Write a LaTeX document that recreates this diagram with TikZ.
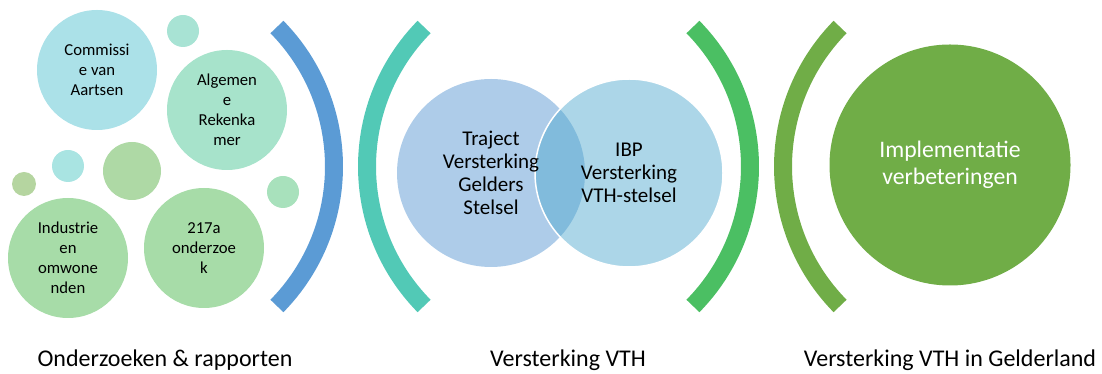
\documentclass[tikz,border=0pt]{standalone}
\usepackage{fontspec}
\setmainfont{Carlito}
\usepackage{tikz}
\usetikzlibrary{calc}

\definecolor{brkblue}{HTML}{5B9BD5}
\definecolor{brkteal}{HTML}{52C9B6}
\definecolor{brkgreen}{HTML}{4BBF63}
\definecolor{brkolive}{HTML}{70AD47}
\definecolor{cyanA}{HTML}{ABE1E8}
\definecolor{mintA}{HTML}{A8E3D4}
\definecolor{mintB}{HTML}{A7E3CB}
\definecolor{cyanB}{HTML}{A9E4E2}
\definecolor{oliveA}{HTML}{B5D5A0}
\definecolor{greenA}{HTML}{AED9A5}
\definecolor{greenB}{HTML}{A8E1BC}
\definecolor{greenC}{HTML}{A7DCA8}
\definecolor{vennL}{HTML}{AECCE9}
\definecolor{vennR}{HTML}{4FA8CE}

\begin{document}
\begin{tikzpicture}[
  x=1pt, y=1pt,
  bubble/.style={circle, inner sep=0pt, minimum size=120pt, align=center,
    font=\fontsize{16.7}{20}\selectfont},
  dot/.style={circle, inner sep=0pt},
  brk/.style={line width=18pt},
  lab/.style={anchor=base, font=\fontsize{24}{28}\selectfont}
]
\useasboundingbox (0,0) rectangle (1102,374);

% Onderzoeken
\node[bubble, fill=cyanA] (aartsen) at (97,304) {Commissi\\e van\\Aartsen};
\node[dot, fill=mintA, minimum size=32pt] (d1) at (183,343) {};
\node[bubble, fill=mintB] (rekenk) at (227,264) {Algemen\\e\\Rekenka\\mer};
\node[dot, fill=cyanB, minimum size=32pt] (d2) at (68,208) {};
\node[dot, fill=oliveA, minimum size=24pt] (d3) at (24,190) {};
\node[dot, fill=greenA, minimum size=58pt] (d4) at (132,203) {};
\node[dot, fill=greenB, minimum size=32pt] (d5) at (283,182) {};
\node[bubble, fill=greenC] (industrie) at (68,116) {Industrie\\en\\omwone\\nden};
\node[bubble, fill=greenC] (onderz) at (204,126) {217a\\onderzoe\\k};

% haken
\coordinate (cb) at (135,207.5);
\coordinate (ct) at (566,207.5);
\coordinate (cg) at (551,207.5);
\coordinate (co) at (982,207.5);
\draw[brk, brkblue] ($(cb)+(-44.5:199)$) arc (-44.5:44.5:199);
\draw[brk, brkteal] ($(ct)+(135.5:199)$) arc (135.5:224.5:199);
\draw[brk, brkgreen] ($(cg)+(-44.5:199)$) arc (-44.5:44.5:199);
\draw[brk, brkolive] ($(co)+(135.5:199)$) arc (135.5:224.5:199);

% Venn
\node[circle, fill=vennL, minimum size=188pt, inner sep=0pt] (gelders) at (491,201) {};
\node[circle, fill=vennR, fill opacity=0.47, draw=white, line width=1.5pt,
  minimum size=188pt, inner sep=0pt] (ibp) at (629,201) {};
\node[align=center, font=\fontsize{21}{23}\selectfont] at (gelders.center)
  {Traject\\Versterking\\Gelders\\Stelsel};
\node[align=center, font=\fontsize{21}{23}\selectfont] at (ibp.center)
  {IBP\\Versterking\\VTH-stelsel};

% Implementatie
\node[circle, fill=brkolive, minimum size=241pt, inner sep=0pt, align=center,
  text=white, font=\fontsize{23.7}{27}\selectfont] (impl) at (950,209)
  {Implementatie\\verbeteringen};

% onderschriften
\node[lab] (l1) at (165,7) {Onderzoeken \& rapporten};
\node[lab] (l2) at (568,7) {Versterking VTH};
\node[lab] (l3) at (950,7) {Versterking VTH in Gelderland};
\end{tikzpicture}
\end{document}
